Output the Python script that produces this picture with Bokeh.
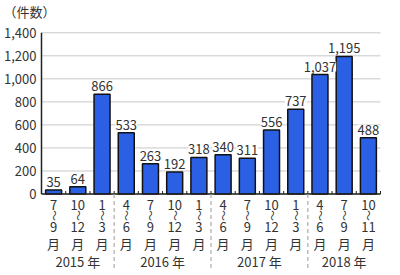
import math
from bokeh.plotting import figure
from bokeh.models import Range1d, ColumnDataSource
from bokeh.core.properties import value
from bokeh.embed import file_html
from bokeh.resources import INLINE

# ---- data ----
start_months = ["7", "10", "1", "4", "7", "10", "1", "4", "7", "10", "1", "4", "7", "10"]
end_months = ["9", "12", "3", "6", "9", "12", "3", "6", "9", "12", "3", "6", "9", "11"]
counts = [35, 64, 866, 533, 263, 192, 318, 340, 311, 556, 737, 1037, 1195, 488]
years = ["2015 年", "2016 年", "2017 年", "2018 年"]
year_sizes = [3, 4, 4, 3]
y_ticks = [0, 200, 400, 600, 800, 1000, 1200, 1400]
unit_label = "（件数）"

JP = "Noto Sans CJK JP"
TXT = "#333333"
n = len(counts)
xs = list(range(n))

# layout (pixels)
W, H = 400, 275
left_px, right_px = 41, 380          # plot area left/right
base_px, top_px = 193.5, 32.3        # y pixel of 0 and of 1400
cat_px = (right_px - left_px) / n
unit_px = (base_px - top_px) / y_ticks[-1]
x0 = -0.5 - left_px / cat_px
x1 = n - 0.5 + (W - right_px) / cat_px
y1 = y_ticks[-1] + top_px / unit_px
y0 = -(H - base_px) / unit_px

p = figure(width=W, height=H, output_backend="svg", toolbar_location=None,
           x_range=Range1d(x0, x1), y_range=Range1d(y0, y1),
           min_border=0, min_border_left=0, min_border_right=0,
           min_border_top=0, min_border_bottom=0)
p.outline_line_color = None
p.background_fill_color = "white"
p.axis.visible = False
p.grid.visible = False

# gridlines
p.segment(x0=[-0.5] * len(y_ticks), y0=y_ticks, x1=[n - 0.5] * len(y_ticks), y1=y_ticks,
          line_color="#c8c8c8", line_width=1)

# y tick labels
p.text(x=[-0.5] * len(y_ticks), y=y_ticks, text=[f"{t:,}" for t in y_ticks],
       text_align="right", text_baseline="middle", x_offset=-5,
       text_font=value(JP), text_font_size="13px", text_color=TXT)

# bars
src = ColumnDataSource(dict(x=xs, top=counts, lab=[f"{v:,}" for v in counts]))
p.vbar(x="x", top="top", bottom=0, width=0.66, source=src,
       fill_color="#2b60e4", line_color="#111111", line_width=1.5)

# value labels
p.text(x="x", y="top", text="lab", source=src, text_align="center",
       text_baseline="alphabetic", y_offset=-8, text_font=value(JP),
       text_font_size="13px", text_color=TXT, background_fill_color="white")

# axis lines
p.segment(x0=[-0.5], y0=[0], x1=[-0.5], y1=[y_ticks[-1]], line_color="#222222", line_width=1.5)
p.segment(x0=[-0.5], y0=[0], x1=[n - 0.5], y1=[0], line_color="#222222", line_width=1.5)
bnd = [i + 0.5 for i in range(n)]
p.segment(x0=bnd, y0=[0] * n, x1=bnd, y1=[3 / unit_px] * n, line_color="#222222", line_width=1)

# x category labels
p.text(x=xs, y=[0] * n, text=start_months, text_align="center", text_baseline="middle",
       y_offset=11, text_font=value(JP), text_font_size="13px", text_color=TXT)
p.text(x=xs, y=[0] * n, text=["〜"] * n, angle=math.pi / 2, text_align="center",
       text_baseline="middle", y_offset=21.5, text_font=value(JP),
       text_font_size="11px", text_color=TXT)
p.text(x=xs, y=[0] * n, text=end_months, text_align="center", text_baseline="middle",
       y_offset=33, text_font=value(JP), text_font_size="13px", text_color=TXT)
p.text(x=xs, y=[0] * n, text=["月"] * n, text_align="center", text_baseline="middle",
       y_offset=49, text_font=value(JP), text_font_size="13px", text_color=TXT)

# year groups
centers, seps = [], []
pos = 0
for s in year_sizes:
    centers.append(pos + (s - 1) / 2)
    pos += s
    if pos < n:
        seps.append(pos - 0.5)
p.text(x=centers, y=[0] * len(centers), text=years, text_align="center", text_baseline="middle",
       y_offset=67.5, text_font=value(JP), text_font_size="13px", text_color=TXT)
p.segment(x0=seps, y0=[0] * len(seps), x1=seps, y1=[-(270 - base_px) / unit_px] * len(seps),
          line_color="#aaaaaa", line_width=1.2, line_dash="4 3")

# unit label
p.text(x=[-0.5], y=[y_ticks[-1]], text=[unit_label], text_align="left",
       text_baseline="middle", x_offset=-38, y_offset=-21,
       text_font=value(JP), text_font_size="13px", text_color=TXT)

open("out.html", "w").write(file_html(p, INLINE))
